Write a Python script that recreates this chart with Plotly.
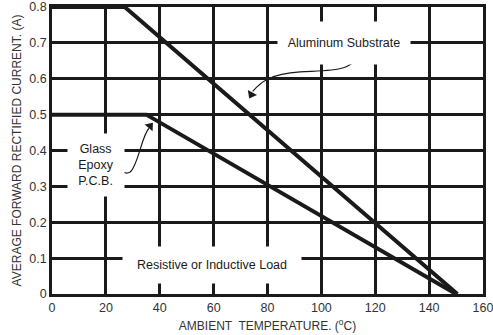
import plotly.graph_objects as go

# Derating curves (ambient temperature in C, current in A)
alu_temp = [0, 27, 150.5]
alu_curr = [0.8, 0.8, 0.0]
glass_temp = [0, 35, 150]
glass_curr = [0.5, 0.5, 0.0]

x_ticks = [0, 20, 40, 60, 80, 100, 120, 140, 160]
y_ticks = [0, 0.1, 0.2, 0.3, 0.4, 0.5, 0.6, 0.7, 0.8]

FONT = "Liberation Sans, Arial, sans-serif"
INK = "#1a1a1a"

fig = go.Figure()
fig.add_trace(go.Scatter(x=alu_temp, y=alu_curr, mode="lines",
                         line=dict(color=INK, width=4), showlegend=False))
fig.add_trace(go.Scatter(x=glass_temp, y=glass_curr, mode="lines",
                         line=dict(color=INK, width=4), showlegend=False))

# curved leader lines (decorative)
alu_path = ("M 113.2,0.675 C 113.2,0.619 103.2,0.624 92.1,0.619 "
            "C 80.9,0.613 77.5,0.591 74.5,0.565")
glass_path = ("M 23.8,0.365 C 25.2,0.351 26.7,0.329 29.0,0.340 "
              "C 31.9,0.357 33.4,0.443 36.0,0.462")
for p in (alu_path, glass_path):
    fig.add_shape(type="path", path=p, xref="x", yref="y",
                  line=dict(color=INK, width=1.2), layer="above")

# arrowheads as rotated triangle markers
fig.add_trace(go.Scatter(x=[74.0, 36.4], y=[0.556, 0.468], mode="markers",
                         marker=dict(symbol="triangle-up", size=9, color=INK,
                                     angle=[208, 40], line=dict(width=0)),
                         showlegend=False, hoverinfo="skip"))

ann_font = dict(family=FONT, size=12.5, color=INK)
fig.add_annotation(x=108.5, y=0.7, text="Aluminum Substrate", showarrow=False,
                   bgcolor="white", width=130, height=40, font=ann_font)
fig.add_annotation(x=16.3, y=0.36, text="Glass<br>Epoxy<br>P.C.B.", showarrow=False,
                   bgcolor="white", width=54, height=60, font=ann_font)
fig.add_annotation(x=59.4, y=0.08, text="Resistive or Inductive Load", showarrow=False,
                   bgcolor="white", width=176, height=34, font=ann_font)

axis_common = dict(showgrid=True, gridcolor=INK, gridwidth=2.5, zeroline=False,
                   showline=True, linecolor=INK, linewidth=2.5, mirror=True,
                   ticks="", automargin=False, ticklabeloverflow="allow",
                   tickfont=dict(family=FONT, size=12.5, color="#333"))

fig.update_xaxes(range=[0, 160], tickvals=x_ticks, ticktext=[str(v) for v in x_ticks],
                 title=dict(text="AMBIENT  TEMPERATURE. (<sup>o</sup>C)",
                            font=dict(family=FONT, size=12, color="#333"), standoff=8),
                 **axis_common)
fig.update_yaxes(range=[0, 0.8], tickvals=y_ticks,
                 ticktext=["0", "0.1", "0.2", "0.3", "0.4", "0.5", "0.6", "0.7", "0.8"],
                 title=dict(text="AVERAGE FORWARD RECTIFIED CURRENT. (A)",
                            font=dict(family=FONT, size=12, color="#333"), standoff=6),
                 **axis_common)

fig.update_layout(width=493, height=335, margin=dict(l=52, r=10, t=7, b=41),
                  paper_bgcolor="white", plot_bgcolor="white", showlegend=False)

fig.write_html("out.html")
